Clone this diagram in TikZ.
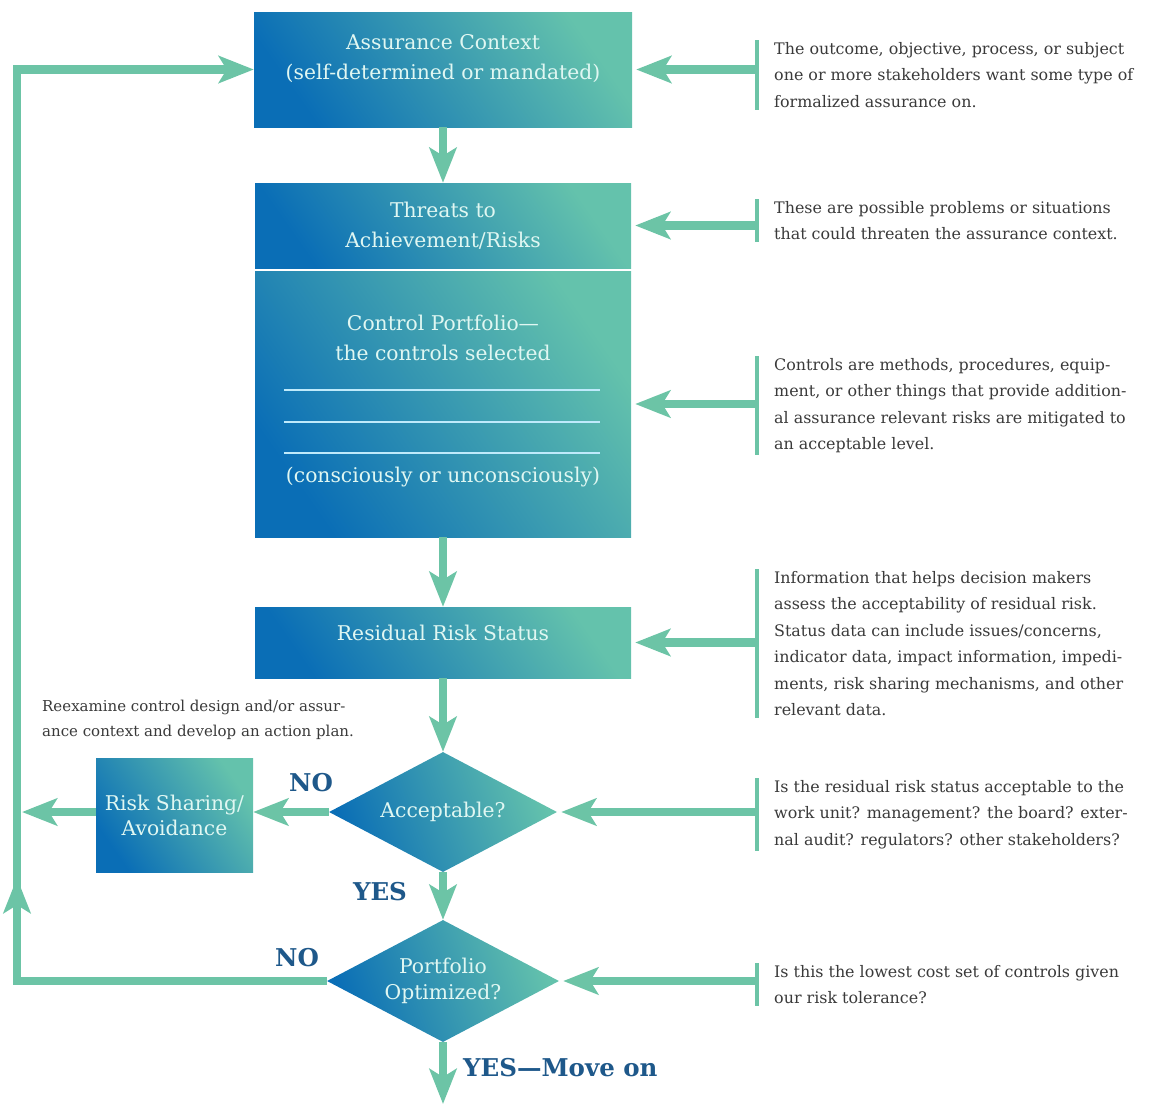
\documentclass[tikz,border=0pt]{standalone}
\usepackage{fontspec}
\setmainfont{DejaVu Serif}
\usetikzlibrary{arrows.meta,shapes.geometric}
\definecolor{flowgreen}{RGB}{108,196,166}
\definecolor{boxdark}{RGB}{10,110,182}
\definecolor{boxlight}{RGB}{100,194,172}
\definecolor{boxtext}{RGB}{224,247,242}
\definecolor{notegray}{RGB}{58,58,58}
\definecolor{ansblue}{RGB}{30,88,138}
\begin{document}
\begin{tikzpicture}[x=1pt,y=-1pt,line join=miter,
	box/.style={rectangle,inner sep=0pt,left color=boxdark,right color=boxlight,shading angle=125,text=boxtext,align=center,font=\fontsize{20.3}{30}\selectfont},
	dia/.style={box,diamond,aspect=1.9,shading angle=110},
	boxlabel/.style={text=boxtext,align=center,inner sep=0pt,font=\fontsize{20.3}{30}\selectfont},
	note/.style={anchor=north west,align=left,inner sep=0pt,text=notegray,font=\fontsize{15.9}{26.5}\selectfont},
	ans/.style={text=ansblue,inner sep=0pt,font=\fontsize{24.5}{26}\selectfont\bfseries},
	flow/.style={draw=flowgreen,line width=8.5pt,-{Stealth[length=35pt,width=27pt,inset=8pt]}},
	bar/.style={draw=flowgreen,line width=4.5pt},
	rule/.style={draw=cyan!25,line width=1.2pt}]
	\useasboundingbox (0,0) rectangle (1149,1106);
	\path
	(17,0) coordinate (loopx)
	(757,0) coordinate (barx)
	(443,1104) coordinate (out);
	\node[box,minimum width=378pt,minimum height=115pt] (ctx) at (443,69.5) {};
	\node[boxlabel] (ctxlabel) at (443,59) {Assurance Context\\(self-determined or mandated)};
	\node[box,minimum width=376pt,minimum height=85pt] (threats) at (443,225.5) {Threats to\\Achievement/Risks};
	\node[box,minimum width=376pt,minimum height=266pt] (portfolio) at (443,404) {};
	\node[boxlabel] (portlabel) at (443,338) {Control Portfolio—\\the controls selected};
	\node[boxlabel] (portnote) at (443,477) {(consciously or unconsciously)};
	\foreach \y in {390,422,453}
	\draw[rule] (284,\y) -- (600,\y);
	\node[box,minimum width=376pt,minimum height=71pt] (residual) at (443,642.5) {};
	\node[boxlabel] (reslabel) at (443,633) {Residual Risk Status};
	\node[dia,minimum width=228pt,minimum height=120pt,inner sep=0pt] (accept) at (443,812) {Acceptable?};
	\node[box,minimum width=157pt,minimum height=114pt,font=\fontsize{20.3}{25}\selectfont] (risk) at (174.5,815) {Risk Sharing/\\Avoidance};
	\node[dia,minimum width=232pt,minimum height=122pt,inner sep=0pt,font=\fontsize{20.3}{26}\selectfont] (optim) at (443,981) {Portfolio\\Optimized?};
	\node[ans] (no1) at (311,783) {NO};
	\node[ans] (yes1) at (380,892) {YES};
	\node[ans] (no2) at (297,958) {NO};
	\node[ans,anchor=west] (yes2) at (463,1068) {YES—Move on};
	\node[note,font=\fontsize{15}{25}\selectfont] (reexam) at (42,700) {Reexamine control design and/or assur-\\ance context and develop an action plan.};
	\node[note] (n1) at (774,42) {The outcome, objective, process, or subject\\one or more stakeholders want some type of\\formalized assurance on.};
	\node[note] (n2) at (774,201) {These are possible problems or situations\\that could threaten the assurance context.};
	\node[note] (n3) at (774,358) {Controls are methods, procedures, equip-\\ment, or other things that provide addition-\\al assurance relevant risks are mitigated to\\an acceptable level.};
	\node[note] (n4) at (774,571) {Information that helps decision makers\\assess the acceptability of residual risk.\\Status data can include issues/concerns,\\indicator data, impact information, impedi-\\ments, risk sharing mechanisms, and other\\relevant data.};
	\node[note] (n5) at (774,780) {Is the residual risk status acceptable to the\\work unit? management? the board? exter-\\nal audit? regulators? other stakeholders?};
	\node[note] (n6) at (774,965) {Is this the lowest cost set of controls given\\our risk tolerance?};
	\foreach \n/\t in {n1/ctx,n2/threats,n3/portfolio,n4/residual,n5/accept,n6/optim}{
		\draw[bar] ([yshift=2pt]\n.north -| barx) -- ([yshift=-2pt]\n.south -| barx);
		\draw[flow] (\t.east -| barx) -- ([xshift=4pt]\t.east);
	}
	\draw[flow] (ctx.south) -- (threats.north);
	\draw[flow] (portfolio.south) -- (residual.north);
	\draw[flow] (residual.south) -- (accept.north);
	\draw[flow] (accept.south) -- (optim.north);
	\draw[flow] (optim.south) -- (out);
	\draw[flow] (accept.west) -- (accept.west -| risk.east);
	\draw[flow] (accept.west -| risk.west) -- ([xshift=5pt]accept.west -| loopx);
	\draw[flow] (optim.west) -- (optim.west -| loopx) -- (ctx.west -| loopx) -- (ctx.west);
	\draw[flow] (optim.west -| loopx) -- ++(0,-103);
\end{tikzpicture}
\end{document}
